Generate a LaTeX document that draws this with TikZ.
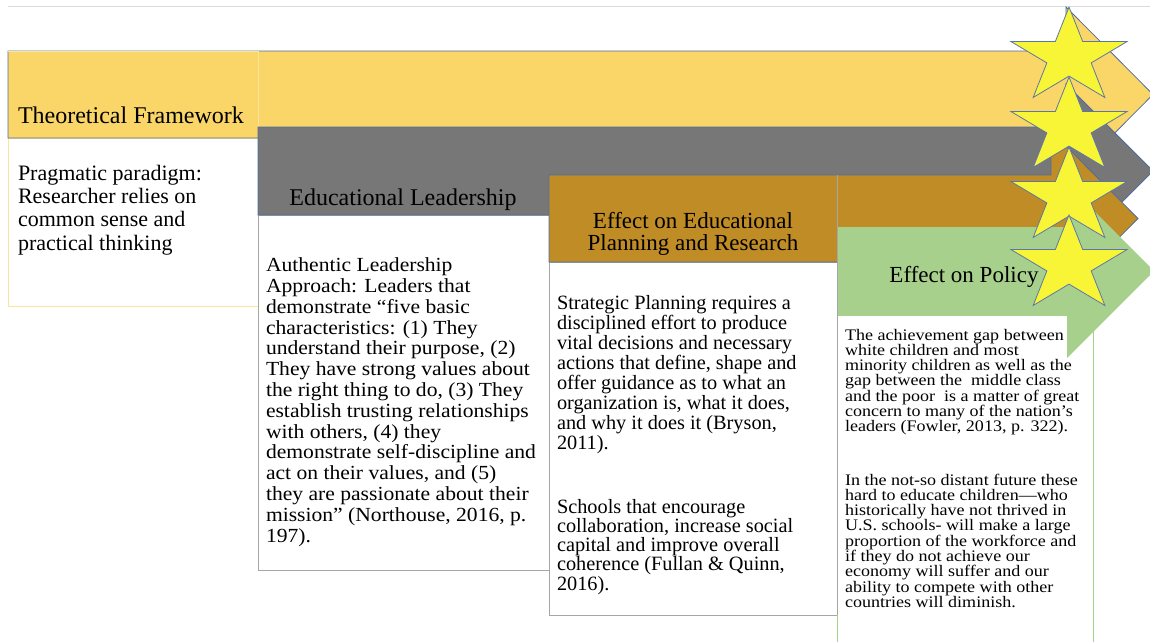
\documentclass[tikz,border=0pt]{standalone}
\usepackage{fontspec}
\setmainfont{Liberation Serif}
\newfontfamily\widea[FakeStretch=1.08]{Liberation Serif}
\newfontfamily\wideb[FakeStretch=1.12]{Liberation Serif}
\definecolor{ylw}{HTML}{FAD669}
\definecolor{ylwline}{HTML}{FBE49B}
\definecolor{gry}{HTML}{777777}
\definecolor{brn}{HTML}{BF8C26}
\definecolor{grn}{HTML}{A8D08D}
\definecolor{outl}{HTML}{4F6D9C}
\definecolor{boxline}{HTML}{A6A6A6}
\definecolor{topline}{HTML}{DADADA}
\definecolor{starfill}{HTML}{F8F536}
\definecolor{starline}{HTML}{5B77A8}
\newcommand\txl[1]{\hbox{#1}}
\newcommand\paras[3]{\vtop{\fontsize{#1}{#2}\selectfont\baselineskip=#2pt\lineskiplimit=-100pt\lineskip=0pt\relax #3}}
\tikzset{
  arrowout/.style={draw=outl, line width=0.8pt, line join=miter},
  txtbox/.style={fill=white, line width=1pt},
  starsty/.style={fill=starfill, draw=starline, line width=0.8pt, line join=miter},
  bodytxt/.style={anchor=base west, inner sep=0pt, outer sep=0pt},
  headtxt/.style={inner sep=0pt, outer sep=0pt}
}
\begin{document}
\begin{tikzpicture}[x=1pt,y=-1pt]
\useasboundingbox (0,0) rectangle (1150,641);
\clip (0,0) rectangle (1150,641);
\fill[white] (0,0) rectangle (1150,641);
% top rule
\draw[draw=topline, line width=1pt] (8,6) -- (1150,6);
% text boxes
\draw[txtbox, draw=ylwline] (8,138) rectangle (258,306);
\draw[txtbox, draw=boxline] (258,215) rectangle (549,570);
\draw[txtbox, draw=boxline] (549,262) rectangle (837,615);
\draw[txtbox, draw=grn] (837,315) rectangle (1093,650);
% arrows
\draw[arrowout, fill=ylw] (8,51) -- (1066,51) -- (1066,7) -- (1153,94.5) -- (1066,182) -- (1066,138) -- (8,138) -- cycle;
\draw[draw=ylwline, line width=0.8pt] (8,51) -- (258,51) -- (258,138);
\draw[arrowout, fill=gry] (258,127) -- (1066,127) -- (1066,84) -- (1153,171) -- (1066,258) -- (1066,215) -- (258,215) -- cycle;
\draw[arrowout, fill=brn] (549,175) -- (1051,175) -- (1051,131) -- (1138,218.5) -- (1051,306) -- (1051,262) -- (549,262) -- cycle;
\draw[draw=boxline, line width=1pt] (837,175) -- (837,615);
\fill[grn] (838,227) -- (1067,227) -- (1067,184) -- (1154,271) -- (1067,358) -- (1067,315) -- (838,315) -- cycle;
\draw[draw=grn, line width=1pt] (837,615) -- (837,641);
% headers
\node[headtxt, anchor=base west] (hTF) at (18,123) {\fontsize{24}{26}\selectfont Theoretical Framework};
\node[headtxt, anchor=base] (hEL) at (403,205) {\fontsize{24}{26}\selectfont Educational Leadership};
\node[headtxt, anchor=base] (hEP1) at (693,228) {\fontsize{23}{25}\selectfont Effect on Educational};
\node[headtxt, anchor=base] (hEP2) at (693,250) {\fontsize{23}{25}\selectfont Planning and Research};
\node[headtxt, anchor=base] (hPol) at (964,282) {\fontsize{23}{25}\selectfont Effect on Policy};
% body texts
\node[bodytxt] (tPrag) at (18,180) {\paras{22}{23.4}{%
\txl{Pragmatic paradigm:}\txl{Researcher relies on}\txl{common sense and}\txl{practical thinking}}};
\node[bodytxt] (tAuth) at (266,271.7) {\widea\paras{20}{20.8}{%
\txl{Authentic Leadership}%
\txl{Approach: Leaders that}%
\txl{demonstrate “five basic}%
\txl{characteristics: (1) They}%
\txl{understand their purpose, (2)}%
\txl{They have strong values about}%
\txl{the right thing to do, (3) They}%
\txl{establish trusting relationships}%
\txl{with others, (4) they}%
\txl{demonstrate self-discipline and}%
\txl{act on their values, and (5)}%
\txl{they are passionate about their}%
\txl{mission” (Northouse, 2016, p.}%
\txl{197).}}};
\node[bodytxt] (tStrat) at (557,309) {\paras{20.3}{20}{%
\txl{Strategic Planning requires a}%
\txl{disciplined effort to produce}%
\txl{vital decisions and necessary}%
\txl{actions that define, shape and}%
\txl{offer guidance as to what an}%
\txl{organization is, what it does,}%
\txl{and why it does it (Bryson,}%
\txl{2011).}}};
\node[bodytxt] (tSchool) at (557,513) {\paras{20.3}{19.3}{%
\txl{Schools that encourage}%
\txl{collaboration, increase social}%
\txl{capital and improve overall}%
\txl{coherence (Fullan \& Quinn,}%
\txl{2016).}}};
\node[bodytxt] (tGap) at (845,340) {\wideb\paras{16.1}{15.3}{%
\txl{The achievement gap between}%
\txl{white children and most}%
\txl{minority children as well as the}%
\txl{gap between the~ middle class}%
\txl{and the poor~ is a matter of great}%
\txl{concern to many of the nation’s}%
\txl{leaders (Fowler, 2013, p. 322).}}};
\node[bodytxt] (tFut) at (845,485) {\wideb\paras{16.1}{15.3}{%
\txl{In the not-so distant future these}%
\txl{hard to educate children—who}%
\txl{historically have not thrived in}%
\txl{U.S. schools- will make a large}%
\txl{proportion of the workforce and}%
\txl{if they do not achieve our}%
\txl{economy will suffer and our}%
\txl{ability to compete with other}%
\txl{countries will diminish.}}};
% stars
\foreach \cy in {57,127,197,265}
  \draw[starsty] plot[samples at={0,...,9}, variable=\k]
    ({1069+61*(1-0.618*mod(\k,2))*cos(90+36*\k)}, {\cy-50*(1-0.618*mod(\k,2))*sin(90+36*\k)}) -- cycle;
\end{tikzpicture}
\end{document}
